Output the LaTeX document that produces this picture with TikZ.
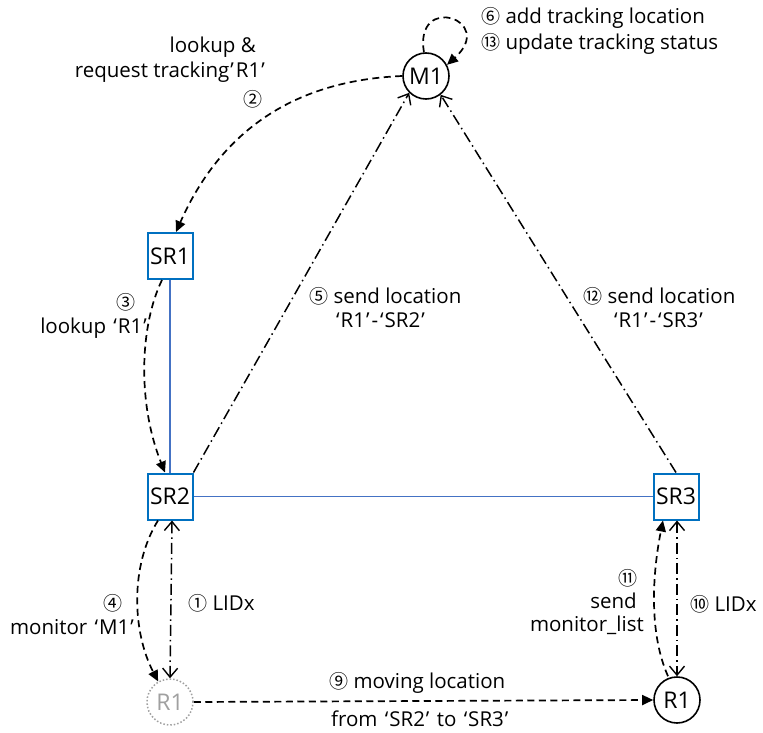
\documentclass[tikz,border=0pt]{standalone}
\usepackage{fontspec}
\setmainfont{Open Sans}
\newfontfamily\cjk{Noto Sans CJK KR}
\usetikzlibrary{arrows.meta}
\definecolor{boxblue}{RGB}{0,112,192}
\definecolor{lineblue}{RGB}{68,114,196}
\definecolor{ghost}{RGB}{160,160,160}
\newcommand{\cn}[1]{{\cjk\fontsize{19}{19}\selectfont #1}}
\newcommand{\oq}{\kern2pt‘\kern1pt}
\newcommand{\cq}{\kern1pt’\kern2pt}
\tikzset{barb/.tip={Straight Barb[length=9pt,width=15pt,line width=1.4pt]}}
\begin{document}
\begin{tikzpicture}[x=1pt,y=-1pt,
  every node/.style={font=\fontsize{20.5}{24}\selectfont},
  srbox/.style={draw=boxblue,line width=2pt,minimum width=45pt,minimum height=46pt,inner sep=0pt,fill=white,font=\fontsize{23}{26}\selectfont},
  rcirc/.style={draw=black,circle,line width=1.6pt,minimum size=46pt,inner sep=0pt,fill=white,font=\fontsize{23}{26}\selectfont},
  gcirc/.style={draw=ghost,circle,line width=1.5pt,dotted,minimum size=46pt,inner sep=0pt,text=ghost,fill=white,font=\fontsize{23}{26}\selectfont},
  lbl/.style={inner sep=0pt},
  link/.style={draw=lineblue,line width=1.2pt},
  dsh/.style={line width=1.7pt,dash pattern=on 7pt off 4.5pt,-{Triangle[length=11pt,width=10pt]}},
  dd/.style={line width=1.5pt,dash pattern=on 11pt off 4pt on 1.5pt off 4pt}
]
\useasboundingbox (0,0) rectangle (763,733);
% links first
\coordinate (sr1c) at (170,256);
\coordinate (sr2c) at (170,496.5);
\coordinate (sr3c) at (676,496.5);
\draw[link] (sr1c) -- (sr2c);
\draw[link] (sr2c) -- (sr3c);
% nodes
\node[rcirc] (m1) at (426,76) {M1};
\node[srbox] (sr1) at (sr1c) {SR1};
\node[srbox] (sr2) at (sr2c) {SR2};
\node[srbox] (sr3) at (sr3c) {SR3};
\node[gcirc] (r1g) at (170,702) {R1};
\node[rcirc] (r1) at (677,700) {R1};
% self loop 6/13
\draw[dsh] (m1.95) .. controls +(-10,-60) and +(50,-45) .. (m1.28);
% 2
\draw[dsh] (m1.west) .. controls +(-120,5) and +(40,-90) .. ([xshift=6pt]sr1.north);
% 3
\draw[dsh] ([xshift=-8pt]sr1.south) .. controls +(-22,45) and +(-28,-70) .. ([xshift=-5pt]sr2.north);
% 4
\draw[dsh] ([xshift=-12pt]sr2.south) .. controls +(-28,45) and +(-26,-50) .. (r1g.120);
% 1
\draw[dd,barb-barb] ([xshift=2pt]sr2.south) -- (r1g.north);
% 5
\draw[dd,-barb] (sr2.north east) -- (m1.225);
% 12
\draw[dd,-barb] (sr3.north) -- (m1.308);
% 9
\draw[dsh] (r1g.east) -- (r1.west);
% 11
\draw[dsh] ([xshift=-9pt]r1.north) .. controls +(-20,-45) and +(-10,50) .. ([xshift=-13pt]sr3.south);
% 10
\draw[dd,barb-barb] ([xshift=1pt]sr3.south) -- (r1.north);
% labels
\node[lbl,anchor=west] (t6) at (481,18) {\cn{⑥} add tracking location};
\node[lbl,anchor=west] (t13) at (481,44) {\cn{⑬} update tracking status};
\node[lbl,anchor=east] (t2a) at (256,47) {lookup \&};
\node[lbl,anchor=east] (t2b) at (267,72) {request tracking\cq R1\cq};
\node[lbl] (t2n) at (253,99) {\cn{②}};
\node[lbl] (t3n) at (126,302) {\cn{③}};
\node[lbl,anchor=east] (t3) at (149,328) {lookup \oq R1\cq};
\node[lbl,anchor=west] (t5a) at (309,296) {\cn{⑤} send location};
\node[lbl,anchor=west] (t5b) at (334,320) {\oq R1\cq-\oq SR2\cq};
\node[lbl,anchor=west] (t12a) at (583,296) {\cn{⑫} send location};
\node[lbl,anchor=west] (t12b) at (612,320) {\oq R1\cq-\oq SR3\cq};
\node[lbl] (t4n) at (113,603) {\cn{④}};
\node[lbl,anchor=east] (t4) at (136,627) {monitor \oq M1\cq};
\node[lbl,anchor=west] (t1) at (188,603) {\cn{①} LIDx};
\node[lbl] (t11n) at (628,578) {\cn{⑪}};
\node[lbl,anchor=east] (t11a) at (637,601) {send};
\node[lbl,anchor=east] (t11b) at (644,625) {monitor\_list};
\node[lbl,anchor=west] (t10) at (690,604) {\cn{⑩} LIDx};
\node[lbl,anchor=west] (t9a) at (329,683) {\cn{⑨} moving location};
\node[lbl,anchor=west] (t9b) at (331,719) {from \oq SR2\cq\ to \oq SR3\cq};
\end{tikzpicture}
\end{document}
